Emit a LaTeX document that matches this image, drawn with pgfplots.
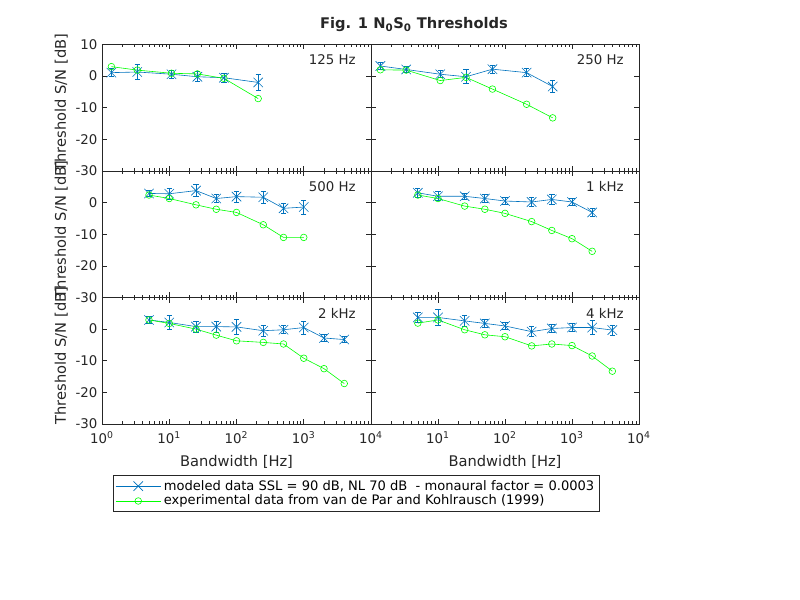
\documentclass[border=0pt]{standalone}
\usepackage{pgfplots}
\pgfplotsset{compat=1.18}
\usepackage{fontspec}
\setmainfont{DejaVu Sans}

\definecolor{mblue}{rgb}{0,0.447,0.741}
\definecolor{mgreen}{rgb}{0,1,0}
\definecolor{axgray}{rgb}{0.15,0.15,0.15}

\pgfplotsset{
  mypanel/.style={
    scale only axis, height=94.875pt, anchor=south west,
    xmin=1, xmax=10000, ymin=-30, ymax=10,
    xtick={1,10,100,1000,10000}, xticklabels={},
    ytick={-30,-20,-10,0,10}, yticklabels={},
    tick align=inside, major tick length=3.75pt, minor tick length=2pt,
    axis line style={axgray, line width=0.4pt},
    every tick/.style={axgray, line width=0.4pt},
    tick label style={font=\fontsize{10}{12}\selectfont, text=axgray},
    xticklabel style={yshift=-2pt},
    label style={font=\fontsize{11}{13}\selectfont, text=axgray},
    xlabel style={at={(axis description cs:0.5,-0.30)}, anchor=center},
    ylabel style={at={(axis description cs:-0.11,0.54)}, anchor=south},
  },
  mmodel/.style={mblue, line width=0.45pt, mark=x, mark size=5pt,
    error bars/y dir=both, error bars/y explicit,
    error bars/error bar style={draw=mblue, line width=0.6pt},
    error bars/error mark options={rotate=90, draw=mblue, mark size=2pt, line width=0.6pt}},
  mexpt/.style={mgreen, line width=0.45pt, mark=o, mark size=2.5pt},
}
\newcommand{\flabel}[1]{\node[anchor=east, font=\fontsize{10}{12}\selectfont, text=axgray]
  at (axis description cs:0.96,0.877) {#1};}

\begin{document}
\begin{tikzpicture}
\path[use as bounding box] (0,0) rectangle (600pt,450pt);

\node[font=\bfseries\fontsize{11}{13}\selectfont, text=axgray] at (310.5pt,431.25pt)
  {Fig. 1 N\textsubscript{0}S\textsubscript{0} Thresholds};

% 125 Hz
\begin{axis}[xmode=log, mypanel, at={(76.5pt,321.75pt)}, width=201.75pt,
  yticklabels={-30,-20,-10,0,10}, ylabel={Threshold S/N [dB]}]
\addplot[mmodel] coordinates {
(1.38,1.1) +- (0,1.2)
(3.35,1.3) +- (0,2.4)
(10.8,0.6) +- (0,1.2)
(26.2,-0.2) +- (0,1.6)
(65,-0.5) +- (0,1.5)
(210,-2.0) +- (0,2.5)
};
\addplot[mexpt] coordinates {
(1.38,3.0) (3.35,1.9) (10.8,0.9) (26.2,0.7) (65,-0.7) (210,-7.1)
};
\flabel{125 Hz}
\end{axis}

% 250 Hz
\begin{axis}[xmode=log, mypanel, at={(278.25pt,321.75pt)}, width=201pt]
\addplot[mmodel] coordinates {
(1.38,3.2) +- (0,1.0)
(3.35,2.1) +- (0,1.0)
(10.8,0.6) +- (0,1.1)
(26.2,-0.2) +- (0,2.2)
(65,2.2) +- (0,1.2)
(210,1.1) +- (0,1.2)
(515,-3.3) +- (0,2.0)
};
\addplot[mexpt] coordinates {
(1.38,2.0) (3.35,1.9) (10.8,-1.4) (26.2,-0.4) (65,-4.1) (210,-8.9) (515,-13.2)
};
\flabel{250 Hz}
\end{axis}

% 500 Hz
\begin{axis}[xmode=log, mypanel, at={(76.5pt,226.875pt)}, width=201.75pt,
  yticklabels={-30,-20,-10,0,{}}, ylabel={Threshold S/N [dB]}]
\addplot[mmodel] coordinates {
(5,2.9) +- (0,1.0)
(10,2.8) +- (0,1.8)
(25,3.8) +- (0,1.9)
(50,1.3) +- (0,1.3)
(100,1.9) +- (0,1.7)
(250,1.7) +- (0,1.9)
(500,-1.8) +- (0,1.5)
(1000,-1.4) +- (0,2.2)
};
\addplot[mexpt] coordinates {
(5,2.4) (10,1.3) (25,-0.7) (50,-2.1) (100,-3.1) (250,-7.0) (500,-11.0) (1000,-11.0)
};
\flabel{500 Hz}
\end{axis}

% 1 kHz
\begin{axis}[xmode=log, mypanel, at={(278.25pt,226.875pt)}, width=201pt]
\addplot[mmodel] coordinates {
(5,3.1) +- (0,1.5)
(10,2.0) +- (0,1.4)
(25,2.0) +- (0,1.0)
(50,1.3) +- (0,1.3)
(100,0.5) +- (0,1.2)
(250,0.2) +- (0,1.5)
(500,1.0) +- (0,1.5)
(1000,0.2) +- (0,1.2)
(2000,-3.1) +- (0,1.3)
};
\addplot[mexpt] coordinates {
(5,2.4) (10,1.3) (25,-1.1) (50,-2.1) (100,-3.4) (250,-6.0) (500,-8.8) (1000,-11.4) (2000,-15.4)
};
\flabel{1 kHz}
\end{axis}

% 2 kHz
\begin{axis}[xmode=log, mypanel, at={(76.5pt,132pt)}, width=201.75pt,
  yticklabels={-30,-20,-10,0,{}}, ylabel={Threshold S/N [dB]},
  xticklabels={10\textsuperscript{0},10\textsuperscript{1},10\textsuperscript{2},10\textsuperscript{3},10\textsuperscript{4}},
  xlabel={Bandwidth [Hz]},
  legend style={at={(axis description cs:0.041,-0.405)}, anchor=north west,
    draw=axgray, line width=0.4pt, font=\fontsize{9.8}{11}\selectfont,
    inner sep=1.5pt, row sep=-1.8pt},
  legend cell align=left,
  legend image code/.code={\draw[mark repeat=2,mark phase=2]
    plot coordinates {(0pt,0pt) (17pt,0pt) (34pt,0pt)};}]
\addplot[mmodel] coordinates {
(5,2.9) +- (0,1.0)
(10,2.1) +- (0,2.1)
(25,0.8) +- (0,1.8)
(50,0.8) +- (0,1.8)
(100,0.7) +- (0,2.3)
(250,-0.5) +- (0,1.7)
(500,-0.2) +- (0,1.3)
(1000,0.5) +- (0,2.1)
(2000,-2.8) +- (0,1.0)
(4000,-3.3) +- (0,1.0)
};
\addlegendentry{modeled data SSL = 90 dB, NL 70 dB \ - monaural factor = 0.0003}
\addplot[mexpt] coordinates {
(5,2.9) (10,1.8) (25,0.0) (50,-1.9) (100,-3.7) (250,-4.2) (500,-4.7) (1000,-9.2) (2000,-12.5) (4000,-17.2)
};
\addlegendentry{experimental data from van de Par and Kohlrausch (1999)}
\flabel{2 kHz}
\end{axis}

% 4 kHz
\begin{axis}[xmode=log, mypanel, at={(278.25pt,132pt)}, width=201pt,
  xticklabels={{},10\textsuperscript{1},10\textsuperscript{2},10\textsuperscript{3},10\textsuperscript{4}},
  xlabel={Bandwidth [Hz]}]
\addplot[mmodel] coordinates {
(5,3.7) +- (0,1.7)
(10,3.7) +- (0,2.5)
(25,2.6) +- (0,1.8)
(50,1.8) +- (0,1.4)
(100,1.0) +- (0,1.0)
(250,-0.8) +- (0,1.6)
(500,0.2) +- (0,1.2)
(1000,0.5) +- (0,1.3)
(2000,0.5) +- (0,2.2)
(4000,-0.3) +- (0,1.6)
};
\addplot[mexpt] coordinates {
(5,1.9) (10,2.9) (25,-0.2) (50,-1.8) (100,-2.4) (250,-5.3) (500,-4.7) (1000,-5.2) (2000,-8.5) (4000,-13.3)
};
\flabel{4 kHz}
\end{axis}
\end{tikzpicture}
\end{document}
